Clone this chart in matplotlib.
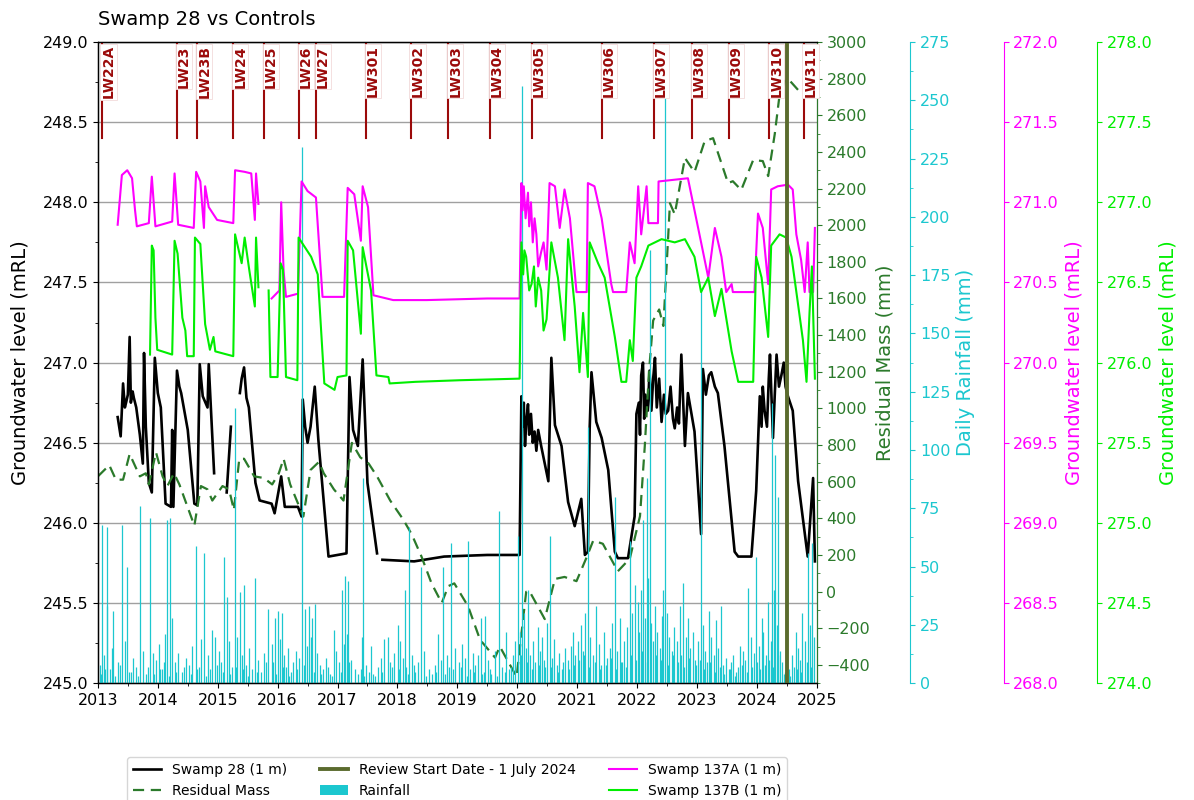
import numpy as np
import matplotlib.pyplot as plt
from matplotlib.ticker import MultipleLocator, FormatStrFormatter
from matplotlib.patches import Patch

nan = np.nan

# Swamp 28 groundwater level (mRL), left axis
s28_t = [2013.33, 2013.38, 2013.40, 2013.42, 2013.45, 2013.47, 2013.50, 2013.53, 2013.55, 2013.58,
         2013.60, 2013.64, 2013.70, 2013.75, 2013.77, 2013.80, 2013.85, 2013.90, 2013.95, 2014.00,
         2014.05, 2014.13, 2014.22, 2014.24, 2014.26, 2014.32, 2014.36, 2014.39, 2014.50, 2014.61,
         2014.66, 2014.70, 2014.75, 2014.83, 2014.85, 2014.94, 2014.95, 2015.15, 2015.22, 2015.23,
         2015.37, 2015.40, 2015.44, 2015.48, 2015.52, 2015.63, 2015.70, 2015.90, 2015.95, 2016.06,
         2016.12, 2016.34, 2016.40, 2016.42, 2016.46, 2016.50, 2016.55, 2016.62, 2016.68, 2016.85,
         2017.15, 2017.20, 2017.26, 2017.34, 2017.42, 2017.50, 2017.66, 2017.70, 2017.75, 2018.28,
         2018.78, 2019.50, 2020.04, 2020.07, 2020.09, 2020.11, 2020.13, 2020.15, 2020.18, 2020.20,
         2020.23, 2020.26, 2020.29, 2020.32, 2020.35, 2020.40, 2020.52, 2020.57, 2020.63, 2020.74,
         2020.85, 2020.96, 2021.07, 2021.13, 2021.18, 2021.21, 2021.24, 2021.32, 2021.41, 2021.52,
         2021.63, 2021.68, 2021.85, 2021.96, 2021.99, 2022.03, 2022.05, 2022.07, 2022.10, 2022.12,
         2022.14, 2022.18, 2022.21, 2022.24, 2022.27, 2022.30, 2022.33, 2022.37, 2022.41, 2022.45,
         2022.48, 2022.52, 2022.56, 2022.60, 2022.63, 2022.67, 2022.70, 2022.74, 2022.80, 2022.85,
         2022.90, 2022.96, 2023.07, 2023.10, 2023.15, 2023.20, 2023.24, 2023.30, 2023.35, 2023.46,
         2023.63, 2023.69, 2023.91, 2023.99, 2024.05, 2024.08, 2024.10, 2024.13, 2024.17, 2024.20,
         2024.22, 2024.27, 2024.30, 2024.33, 2024.37, 2024.41, 2024.45, 2024.48, 2024.52, 2024.60,
         2024.69, 2024.85, 2024.94, 2024.97]
s28_lvl = [246.66, 246.54, 246.70, 246.87, 246.72, 246.75, 246.80, 247.16, 246.75, 246.82,
           246.78, 246.72, 246.55, 246.37, 247.06, 246.60, 246.25, 246.19, 247.03, 246.81,
           246.72, 246.12, 246.10, 246.58, 246.10, 246.95, 246.85, 246.81, 246.58, 246.12,
           246.11, 246.99, 246.79, 246.72, 246.99, 246.31, nan, 246.19, 246.60, nan,
           246.81, 246.90, 246.97, 246.78, 246.72, 246.25, 246.14, 246.12, 246.06, 246.29,
           246.10, 246.10, 246.04, 246.77, 246.60, 246.50, 246.60, 246.85, 246.52, 245.79,
           245.81, 246.91, 246.58, 246.48, 247.02, 246.25, 245.81, nan, 245.77, 245.76,
           245.79, 245.80, 245.80, 246.79, 246.60, 246.75, 246.48, 246.62, 246.74, 246.55,
           246.68, 246.50, 246.57, 246.45, 246.58, 246.48, 246.26, 247.03, 246.61, 246.48,
           246.13, 245.98, 246.15, 245.80, 245.82, 246.59, 246.94, 246.63, 246.53, 246.33,
           245.82, 245.78, 245.78, 246.04, 246.68, 246.75, 246.55, 246.92, 247.00, 246.65,
           246.80, 246.70, 246.95, 246.70, 246.90, 247.03, 246.72, 246.90, 246.63, 246.80,
           246.68, 246.70, 246.85, 246.65, 246.59, 246.72, 246.62, 247.05, 246.48, 246.81,
           246.70, 246.57, 245.93, 246.96, 246.80, 246.92, 246.94, 246.85, 246.81, 246.48,
           245.82, 245.79, 245.79, 246.20, 246.79, 246.60, 246.85, 246.70, 246.60, 246.90,
           247.05, 246.53, 246.80, 247.05, 246.85, 246.92, 247.00, 246.85, 246.79, 246.70,
           246.26, 245.79, 246.28, 245.76]

# Swamp 137A groundwater level (mRL)
s137a_t = [2013.33, 2013.40, 2013.49, 2013.57, 2013.62, 2013.65, 2013.85, 2013.90, 2013.96, 2014.24,
           2014.28, 2014.34, 2014.60, 2014.64, 2014.71, 2014.77, 2014.79, 2014.85, 2014.99, 2015.26,
           2015.29, 2015.45, 2015.56, 2015.62, 2015.64, 2015.68, 2015.70, 2015.90, 2016.03, 2016.06,
           2016.10, 2016.14, 2016.34, 2016.40, 2016.50, 2016.64, 2016.75, 2017.11, 2017.17, 2017.28,
           2017.39, 2017.42, 2017.51, 2017.60, 2017.93, 2018.49, 2019.50, 2020.04, 2020.07, 2020.09,
           2020.11, 2020.14, 2020.18, 2020.20, 2020.23, 2020.26, 2020.29, 2020.32, 2020.35, 2020.40,
           2020.44, 2020.49, 2020.54, 2020.63, 2020.71, 2020.79, 2020.88, 2020.99, 2021.16, 2021.18,
           2021.29, 2021.41, 2021.57, 2021.60, 2021.82, 2021.88, 2021.96, 2022.02, 2022.07, 2022.16,
           2022.19, 2022.35, 2022.36, 2022.85, 2022.96, 2023.07, 2023.19, 2023.30, 2023.41, 2023.49,
           2023.58, 2023.60, 2023.96, 2024.02, 2024.10, 2024.19, 2024.24, 2024.35, 2024.52, 2024.60,
           2024.66, 2024.74, 2024.80, 2024.85, 2024.88, 2024.94, 2024.97]
s137a_lvl = [270.86, 271.17, 271.20, 271.15, 270.95, 270.85, 270.87, 271.16, 270.85, 270.88,
             271.18, 270.86, 270.84, 271.19, 271.13, 270.84, 271.10, 270.97, 270.89, 270.87,
             271.20, 271.19, 271.18, 270.89, 271.18, 270.99, nan, 270.40, 270.45, 271.00,
             270.57, 270.41, 270.43, 271.13, 271.07, 271.03, 270.41, 270.41, 271.09, 271.05,
             270.76, 271.10, 270.97, 270.42, 270.39, 270.39, 270.40, 270.40, 271.12, 270.95,
             271.10, 270.90, 271.06, 270.85, 271.00, 270.75, 270.90, 270.80, 270.60, 270.69,
             270.75, 270.58, 271.12, 271.10, 270.84, 271.08, 270.90, 270.44, 270.44, 271.12,
             271.10, 270.90, 270.49, 270.44, 270.44, 270.75, 270.62, 271.10, 270.80, 271.10,
             270.87, 270.87, 271.13, 271.15, 270.95, 270.75, 270.53, 270.84, 270.66, 270.44,
             270.49, 270.44, 270.44, 270.93, 270.84, 270.49, 271.08, 271.10, 271.11, 271.08,
             270.80, 270.64, 270.44, 270.75, 270.44, 270.44, 270.84]

# Swamp 137B groundwater level (mRL)
s137b_t = [2013.87, 2013.90, 2013.93, 2013.96, 2013.99, 2014.24, 2014.28, 2014.33, 2014.41, 2014.46,
           2014.49, 2014.60, 2014.62, 2014.71, 2014.79, 2014.87, 2014.93, 2014.96, 2015.26, 2015.29,
           2015.40, 2015.45, 2015.53, 2015.62, 2015.64, 2015.68, 2015.70, 2015.85, 2015.88, 2016.00,
           2016.05, 2016.09, 2016.14, 2016.33, 2016.35, 2016.42, 2016.56, 2016.67, 2016.78, 2016.95,
           2017.00, 2017.15, 2017.17, 2017.26, 2017.39, 2017.42, 2017.56, 2017.65, 2017.85, 2017.87,
           2018.30, 2019.04, 2020.04, 2020.07, 2020.10, 2020.12, 2020.15, 2020.20, 2020.24, 2020.28,
           2020.31, 2020.35, 2020.40, 2020.44, 2020.49, 2020.57, 2020.68, 2020.79, 2020.85, 2020.96,
           2021.04, 2021.10, 2021.18, 2021.21, 2021.35, 2021.46, 2021.63, 2021.74, 2021.82, 2021.88,
           2021.93, 2021.99, 2022.07, 2022.19, 2022.41, 2022.63, 2022.80, 2022.96, 2023.07, 2023.19,
           2023.30, 2023.41, 2023.58, 2023.69, 2023.94, 2023.99, 2024.08, 2024.19, 2024.24, 2024.38,
           2024.49, 2024.58, 2024.69, 2024.77, 2024.83, 2024.88, 2024.92, 2024.97]
s137b_lvl = [276.05, 276.73, 276.70, 276.28, 276.08, 276.05, 276.76, 276.68, 276.28, 276.20,
             276.04, 276.04, 276.78, 276.74, 276.24, 276.08, 276.16, 276.07, 276.04, 276.80,
             276.62, 276.78, 276.57, 276.35, 276.78, 276.47, nan, 276.45, 275.91, 275.91,
             276.62, 276.58, 275.91, 275.89, 276.78, 276.74, 276.66, 276.55, 275.87, 275.83,
             275.91, 275.92, 276.76, 276.70, 276.18, 276.72, 276.45, 275.92, 275.91, 275.87,
             275.88, 275.89, 275.90, 276.75, 276.55, 276.70, 276.66, 276.45, 276.49, 276.60,
             276.35, 276.53, 276.45, 276.20, 276.27, 276.75, 276.53, 276.14, 276.77, 276.35,
             275.94, 276.31, 275.91, 276.75, 276.62, 276.53, 276.16, 275.88, 275.88, 276.14,
             276.01, 276.53, 276.60, 276.73, 276.77, 276.75, 276.77, 276.66, 276.44, 276.53,
             276.29, 276.46, 276.07, 275.88, 275.88, 276.66, 276.53, 276.16, 276.73, 276.80,
             276.78, 276.66, 276.36, 276.14, 275.88, 276.31, 276.60, 275.90]

# Residual rainfall mass (mm)
res_t = [2013.00, 2013.19, 2013.30, 2013.42, 2013.53, 2013.70, 2013.80, 2013.85, 2013.97, 2014.08,
         2014.16, 2014.27, 2014.36, 2014.61, 2014.72, 2014.83, 2014.91, 2015.08, 2015.19, 2015.27,
         2015.36, 2015.44, 2015.61, 2015.77, 2015.91, 2016.02, 2016.10, 2016.21, 2016.32, 2016.43,
         2016.55, 2016.69, 2016.77, 2016.94, 2017.10, 2017.24, 2017.38, 2017.52, 2017.66, 2017.88,
         2018.10, 2018.24, 2018.40, 2018.57, 2018.74, 2018.85, 2018.95, 2019.18, 2019.38, 2019.63,
         2019.71, 2019.99, 2020.15, 2020.20, 2020.46, 2020.63, 2020.79, 2020.99, 2021.16, 2021.27,
         2021.43, 2021.68, 2021.88, 2022.05, 2022.13, 2022.20, 2022.27, 2022.37, 2022.44, 2022.49,
         2022.55, 2022.63, 2022.80, 2022.96, 2023.13, 2023.27, 2023.52, 2023.60, 2023.74, 2023.94,
         2024.10, 2024.19, 2024.30, 2024.38, 2024.47, 2024.52, 2024.69, 2024.86, 2025.00]
res_mm = [629, 690, 611, 611, 751, 629, 646, 585, 760, 629,
          576, 646, 585, 360, 576, 558, 497, 576, 558, 445,
          725, 725, 629, 620, 585, 646, 725, 585, 497, 410,
          664, 708, 646, 558, 497, 812, 733, 699, 629, 497,
          392, 312, 193, 45, -62, 30, 45, -80, -263, -360,
          -300, -465, -1, 5, -150, 69, 80, 57, 188, 279,
          261, 111, 180, 412, 794, 1200, 1480, 1540, 1450, 1750,
          2120, 2060, 2367, 2290, 2459, 2475, 2230, 2240, 2192, 2356,
          2350, 2268, 2498, 2711, 2787, 2800, 2738, 2730, 2750]

# Daily rainfall (mm): larger events
rain_big_t = [2013.07, 2013.15, 2013.16, 2013.26, 2013.40, 2013.48, 2013.70, 2013.87, 2013.92, 2014.12,
              2014.16, 2014.20, 2014.24, 2014.63, 2014.77, 2014.90, 2014.95, 2015.11, 2015.15, 2015.29,
              2015.37, 2015.44, 2015.62, 2015.84, 2015.96, 2016.00, 2016.07, 2016.17, 2016.30, 2016.41,
              2016.46, 2016.52, 2016.57, 2016.62, 2016.94, 2017.08, 2017.13, 2017.18, 2017.41, 2017.43,
              2017.56, 2017.78, 2017.84, 2018.01, 2018.12, 2018.19, 2018.40, 2018.68, 2018.76, 2018.90,
              2019.18, 2019.26, 2019.40, 2019.47, 2019.70, 2019.82, 2020.01, 2020.08, 2020.18, 2020.34,
              2020.54, 2020.79, 2020.93, 2021.18, 2021.32, 2021.63, 2021.71, 2021.88, 2021.96, 2022.10,
              2022.16, 2022.21, 2022.30, 2022.42, 2022.46, 2022.71, 2022.77, 2023.07, 2023.20, 2023.32,
              2023.40, 2023.60, 2023.72, 2023.85, 2023.99, 2024.08, 2024.25, 2024.30, 2024.35, 2024.54,
              2024.65, 2024.76, 2024.85, 2024.92]
rain_big_mm = [68, 67, 33, 31, 68, 50, 76, 71, 13, 21,
               70, 71, 28, 59, 56, 23, 20, 54, 37, 118,
               39, 42, 45, 32, 28, 31, 30, 15, 14, 230,
               32, 33, 28, 34, 23, 40, 46, 44, 20, 88,
               16, 19, 20, 25, 40, 67, 50, 21, 50, 60,
               61, 13, 28, 29, 74, 22, 63, 256, 40, 24,
               63, 15, 22, 110, 33, 80, 28, 61, 42, 70,
               88, 186, 33, 29, 254, 33, 43, 169, 31, 27,
               33, 12, 16, 41, 54, 28, 120, 98, 80, 6,
               22, 30, 56, 60]

# Daily rainfall (mm): smaller events
rain_small_t = [2013.03, 2013.10, 2013.20, 2013.23, 2013.33, 2013.45, 2013.52, 2013.58, 2013.64, 2013.75,
                2013.80, 2013.97, 2014.02, 2014.07, 2014.28, 2014.33, 2014.40, 2014.47, 2014.52, 2014.57,
                2014.68, 2014.72, 2014.83, 2014.87, 2015.02, 2015.06, 2015.19, 2015.24, 2015.33, 2015.40,
                2015.48, 2015.53, 2015.58, 2015.68, 2015.73, 2015.78, 2015.90, 2015.93, 2016.04, 2016.11,
                2016.14, 2016.22, 2016.26, 2016.36, 2016.49, 2016.55, 2016.66, 2016.70, 2016.75, 2016.80,
                2016.87, 2016.98, 2017.03, 2017.11, 2017.16, 2017.23, 2017.29, 2017.34, 2017.48, 2017.52,
                2017.62, 2017.68, 2017.72, 2017.88, 2017.94, 2018.05, 2018.09, 2018.15, 2018.24, 2018.30,
                2018.35, 2018.45, 2018.52, 2018.57, 2018.62, 2018.72, 2018.82, 2018.86, 2018.96, 2019.03,
                2019.08, 2019.13, 2019.22, 2019.30, 2019.35, 2019.44, 2019.52, 2019.57, 2019.63, 2019.75,
                2019.87, 2019.93, 2019.97, 2020.04, 2020.11, 2020.14, 2020.22, 2020.27, 2020.30, 2020.38,
                2020.42, 2020.47, 2020.50, 2020.58, 2020.62, 2020.66, 2020.70, 2020.74, 2020.84, 2020.89,
                2020.97, 2021.02, 2021.06, 2021.10, 2021.14, 2021.22, 2021.26, 2021.36, 2021.40, 2021.45,
                2021.50, 2021.55, 2021.59, 2021.67, 2021.75, 2021.79, 2021.84, 2021.92, 2022.01, 2022.04,
                2022.07, 2022.13, 2022.19, 2022.24, 2022.27, 2022.34, 2022.38, 2022.44, 2022.50, 2022.54,
                2022.58, 2022.62, 2022.66, 2022.74, 2022.81, 2022.85, 2022.89, 2022.93, 2022.97, 2023.02,
                2023.10, 2023.14, 2023.17, 2023.24, 2023.28, 2023.36, 2023.44, 2023.48, 2023.53, 2023.57,
                2023.65, 2023.69, 2023.77, 2023.81, 2023.90, 2023.95, 2024.03, 2024.11, 2024.15, 2024.19,
                2024.23, 2024.28, 2024.33, 2024.38, 2024.42, 2024.47, 2024.51, 2024.58, 2024.62, 2024.69,
                2024.72, 2024.80, 2024.88, 2024.96]
rain_small_mm = [8, 12, 6, 15, 9, 18, 5, 11, 7, 14,
                 4, 10, 17, 6, 9, 13, 5, 11, 8, 16,
                 7, 19, 12, 6, 14, 9, 18, 7, 20, 12,
                 8, 15, 6, 10, 5, 13, 17, 9, 19, 12,
                 7, 5, 9, 11, 16, 20, 13, 8, 6, 11,
                 4, 14, 9, 17, 21, 10, 6, 4, 8, 5,
                 3, 7, 11, 9, 13, 18, 11, 7, 12, 5,
                 9, 14, 6, 4, 8, 10, 12, 7, 15, 9,
                 17, 11, 6, 8, 12, 5, 10, 4, 14, 7,
                 6, 12, 18, 22, 30, 15, 12, 18, 9, 14,
                 20, 7, 26, 11, 19, 8, 13, 6, 10, 16,
                 12, 18, 25, 14, 30, 20, 12, 17, 8, 22,
                 11, 15, 26, 14, 9, 18, 24, 30, 35, 22,
                 40, 28, 45, 26, 18, 22, 15, 40, 30, 20,
                 14, 24, 18, 12, 20, 28, 15, 22, 10, 18,
                 25, 14, 9, 20, 12, 15, 8, 11, 6, 9,
                 5, 7, 14, 10, 20, 13, 16, 22, 12, 35,
                 18, 40, 25, 14, 9, 5, 8, 12, 7, 15,
                 10, 18, 25, 20]

# Daily rainfall (mm): light falls
rain_light_t = [2013.05, 2013.12, 2013.29, 2013.37, 2013.56, 2013.67, 2013.83, 2013.94, 2014.04, 2014.10,
                2014.18, 2014.30, 2014.44, 2014.55, 2014.65, 2014.80, 2014.98, 2015.09, 2015.21, 2015.31,
                2015.42, 2015.50, 2015.66, 2015.81, 2015.98, 2016.09, 2016.19, 2016.33, 2016.44, 2016.60,
                2016.73, 2016.84, 2016.91, 2017.06, 2017.20, 2017.39, 2017.45, 2017.59, 2017.75, 2017.91,
                2018.03, 2018.18, 2018.27, 2018.48, 2018.65, 2018.79, 2018.93, 2019.06, 2019.16, 2019.28,
                2019.42, 2019.55, 2019.66, 2019.79, 2019.90, 2020.06, 2020.16, 2020.25, 2020.36, 2020.45,
                2020.56, 2020.68, 2020.77, 2020.87, 2020.95, 2021.04, 2021.12, 2021.20, 2021.30, 2021.38,
                2021.48, 2021.57, 2021.65, 2021.73, 2021.82, 2021.90, 2021.98, 2022.09, 2022.17, 2022.32,
                2022.40, 2022.52, 2022.60, 2022.69, 2022.79, 2022.87, 2022.99, 2023.05, 2023.12, 2023.22,
                2023.30, 2023.38, 2023.46, 2023.55, 2023.63, 2023.75, 2023.83, 2023.92, 2024.01, 2024.06,
                2024.13, 2024.21, 2024.27, 2024.36, 2024.45, 2024.56, 2024.67, 2024.74, 2024.83, 2024.90]
rain_light_mm = [4, 6, 3, 8, 5, 3, 7, 4, 6, 9,
                 3, 5, 7, 4, 6, 3, 8, 5, 4, 7,
                 6, 3, 5, 9, 4, 7, 3, 6, 8, 5,
                 4, 7, 3, 5, 9, 6, 3, 4, 5, 7,
                 6, 4, 8, 3, 5, 4, 6, 7, 3, 5,
                 4, 6, 3, 5, 7, 12, 9, 6, 8, 10,
                 7, 5, 9, 6, 8, 10, 12, 7, 9, 6,
                 8, 11, 6, 9, 7, 12, 10, 14, 9, 12,
                 10, 8, 12, 9, 7, 11, 8, 10, 6, 9,
                 5, 7, 4, 6, 3, 8, 5, 7, 9, 6,
                 8, 10, 7, 12, 4, 3, 6, 5, 9, 7]

# Longwall panel start dates
lw_t = [2013.06, 2014.32, 2014.66, 2015.26, 2015.77, 2016.36, 2016.64, 2017.47, 2018.22, 2018.85,
        2019.54, 2020.25, 2021.41, 2022.28, 2022.92, 2023.54, 2024.21, 2024.78]
lw_names = ['LW22A', 'LW23', 'LW23B', 'LW24', 'LW25', 'LW26', 'LW27', 'LW301', 'LW302', 'LW303',
            'LW304', 'LW305', 'LW306', 'LW307', 'LW308', 'LW309', 'LW310', 'LW311']
review_t = 2024.5

c_res = '#2b7a2b'
c_rain = '#1cc7cf'
c_a = '#ff00ff'
c_b = '#00ee00'
c_lw = '#9b0a0a'
c_review = '#5b6b2e'

fig = plt.figure(figsize=(11.94, 8), dpi=100)
ax = fig.add_axes([0.082, 0.146, 0.602, 0.8015])
ax2 = ax.twinx()
ax3 = ax.twinx()
ax4 = ax.twinx()
ax5 = ax.twinx()
ax3.spines['right'].set_position(('axes', 1.13))
ax4.spines['right'].set_position(('axes', 1.26))
ax5.spines['right'].set_position(('axes', 1.39))

# main axis
h_s28, = ax.plot(s28_t, s28_lvl, color='black', lw=1.9, label='Swamp 28 (1 m)')
ax.set_xlim(2013, 2025)
ax.set_ylim(245, 249)
ax.yaxis.set_major_locator(MultipleLocator(0.5))
ax.yaxis.set_minor_locator(MultipleLocator(0.25))
ax.yaxis.set_major_formatter(FormatStrFormatter('%.1f'))
ax.xaxis.set_major_locator(MultipleLocator(1))
ax.xaxis.set_minor_locator(MultipleLocator(0.5))
ax.xaxis.set_major_formatter(FormatStrFormatter('%d'))
ax.grid(axis='y', which='major', color='#a0a0a0', lw=1)
ax.set_ylabel('Groundwater level (mRL)', fontsize=14, labelpad=9)
ax.tick_params(labelsize=11.5)
ax.set_title('Swamp 28 vs Controls', loc='left', fontsize=14, pad=12)

# residual mass
h_res, = ax2.plot(res_t, res_mm, color=c_res, lw=1.6, ls=(0, (5, 3)), label='Residual Mass')
ax2.set_ylim(-500, 3000)
ax2.yaxis.set_minor_locator(MultipleLocator(100))
ax2.set_yticks(np.arange(-400, 3001, 200))
ax2.set_ylabel('Residual Mass (mm)', color=c_res, fontsize=14)
ax2.tick_params(axis='y', which='both', colors=c_res, labelsize=11.5)
ax2.spines['right'].set_color(c_res)

# rainfall
ax3.vlines(rain_big_t + rain_small_t + rain_light_t, 0, rain_big_mm + rain_small_mm + rain_light_mm,
           color=c_rain, lw=0.9)
h_rain = Patch(facecolor=c_rain, label='Rainfall')
ax3.set_ylim(0, 275)
ax3.yaxis.set_major_locator(MultipleLocator(25))
ax3.yaxis.set_minor_locator(MultipleLocator(12.5))
ax3.set_ylabel('Daily Rainfall (mm)', color=c_rain, fontsize=14)
ax3.tick_params(axis='y', which='both', colors=c_rain, labelsize=11.5)
ax3.spines['right'].set_color(c_rain)

# swamp 137A
h_a, = ax4.plot(s137a_t, s137a_lvl, color=c_a, lw=1.5, label='Swamp 137A (1 m)')
ax4.set_ylim(268, 272)
ax4.yaxis.set_major_locator(MultipleLocator(0.5))
ax4.yaxis.set_major_formatter(FormatStrFormatter('%.1f'))
ax4.set_ylabel('Groundwater level (mRL)', color=c_a, fontsize=14)
ax4.tick_params(axis='y', colors=c_a, labelsize=11.5)
ax4.spines['right'].set_color(c_a)

# swamp 137B
h_b, = ax5.plot(s137b_t, s137b_lvl, color=c_b, lw=1.5, label='Swamp 137B (1 m)')
ax5.set_ylim(274, 278)
ax5.yaxis.set_major_locator(MultipleLocator(0.5))
ax5.yaxis.set_major_formatter(FormatStrFormatter('%.1f'))
ax5.set_ylabel('Groundwater level (mRL)', color=c_b, fontsize=14)
ax5.tick_params(axis='y', colors=c_b, labelsize=11.5)
ax5.spines['right'].set_color(c_b)

# longwall markers and review date, drawn on the top axis
trans = ax5.get_xaxis_transform()
for x, name in zip(lw_t, lw_names):
    ax5.axvline(x, ymin=0.85, ymax=1, color=c_lw, lw=1.5)
    ax5.text(x, 0.995, name, transform=trans, rotation=90, ha='left', va='top',
             fontsize=10, fontweight='bold', color=c_lw,
             bbox=dict(facecolor='white', edgecolor='#f2dada', pad=0.8, lw=0.6))
h_rev = ax5.axvline(review_t, color=c_review, lw=2.8, label='Review Start Date - 1 July 2024')

handles = [h_s28, h_res, h_rev, h_rain, h_a, h_b]
ax5.legend(handles=handles, labels=[h.get_label() for h in handles], ncol=3,
           loc='upper center', bbox_to_anchor=(0.5, -0.105), fontsize=10,
           frameon=True, columnspacing=2.4)

fig.savefig('out.png', dpi=100)
